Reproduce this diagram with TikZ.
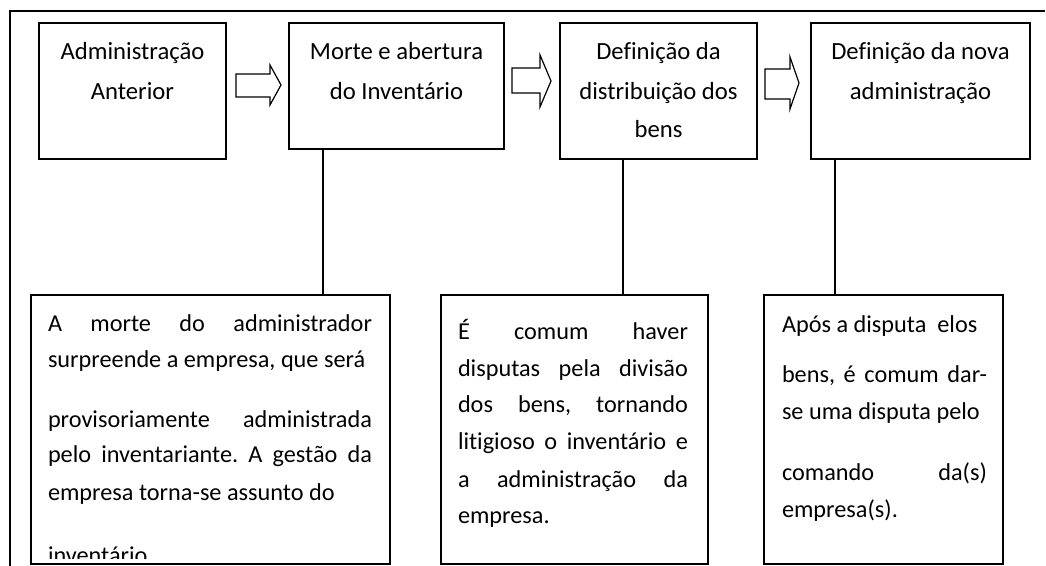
\documentclass[tikz,border=0pt]{standalone}
\usepackage{fontspec}
\setmainfont{Carlito}[Ligatures={NoCommon,NoRequired,NoContextual}]
\frenchspacing
\begin{document}
\begin{tikzpicture}[x=0.75pt,y=-0.75pt,
  every node/.style={inner sep=0pt,outer sep=0pt},
  box/.style={draw,line width=0.9pt},
  sz/.style 2 args={minimum width=#1*0.75pt,minimum height=#2*0.75pt},
  lbl/.style={font=\fontsize{18.5}{22}\selectfont,anchor=base},
  txt/.style={font=\fontsize{18.2}{22}\selectfont,anchor=base west},
  blk/.style={draw,line width=0.9pt,line join=miter},
  conn/.style={draw,line width=0.9pt},
  frame/.style={draw,line width=0.9pt}]
\useasboundingbox (0,0) rectangle (1046,566);
% frame
\draw[frame] (10,566) -- (10,11) -- (1045,11);
% top boxes
\node[box,sz={187}{136}] (b1) at (132.5,91) {};
\node[box,sz={215}{126}] (b2) at (396.5,86) {};
\node[box,sz={197}{136}] (b3) at (658.5,91) {};
\node[box,sz={219}{136}] (b4) at (920.5,91) {};
% bottom boxes
\node[box,sz={359}{269}] (bA) at (210.5,429.5) {};
\node[box,sz={267}{269}] (bB) at (574.5,429.5) {};
\node[box,sz={239}{269}] (bC) at (883.5,429.5) {};
% top labels
\node[lbl] (l1a) at (132.5,60) {Administração};
\node[lbl] (l1b) at (132.5,100) {Anterior};
\node[lbl] (l2a) at (396.5,60) {Morte e abertura};
\node[lbl] (l2b) at (396.5,100) {do Inventário};
\node[lbl] (l3a) at (658.5,60) {Definição da};
\node[lbl] (l3b) at (658.5,100) {distribuição dos};
\node[lbl] (l3c) at (658.5,138) {bens};
\node[lbl] (l4a) at (920.5,60) {Definição da nova};
\node[lbl] (l4b) at (920.5,100) {administração};
% block arrows
\draw[blk] (236,74) -- (270,74) -- (270,65) -- (281,85) -- (270,105) -- (270,97) -- (236,97) -- cycle;
\draw[blk] (512,68) -- (540,68) -- (540,55) -- (551,81) -- (540,107) -- (540,93) -- (512,93) -- cycle;
\draw[blk] (765,69) -- (790,69) -- (790,57) -- (799,83) -- (790,109) -- (790,99) -- (765,99) -- cycle;
% connectors
\coordinate (k1) at (323,149);
\coordinate (k2) at (623,159);
\coordinate (k3) at (835,159);
\draw[conn] (k1) -- (k1 |- bA.north);
\draw[conn] (k2) -- (k2 |- bB.north);
\draw[conn] (k3) -- (k3 |- bC.north);
% box A text
\node[txt] (ta1) at (48,332) {\makebox[243pt][s]{A morte do administrador}};
\node[txt] (ta2) at (48,368) {surpreende a empresa, que será};
\node[txt] (ta3) at (48,427) {\makebox[243pt][s]{provisoriamente administrada}};
\node[txt] (ta4) at (48,463) {\makebox[243pt][s]{pelo inventariante. A gestão da}};
\node[txt] (ta5) at (48,500) {empresa torna-se assunto do};
\begin{scope}
\clip (31,295) rectangle (390,558);
\node[txt] (ta6) at (48,563) {inventário};
\end{scope}
% box B text
\node[txt] (tb1) at (458,340) {\makebox[172.5pt][s]{É comum haver}};
\node[txt] (tb2) at (458,377) {\makebox[172.5pt][s]{disputas pela divisão}};
\node[txt] (tb3) at (458,413) {\makebox[172.5pt][s]{dos bens, tornando}};
\node[txt] (tb4) at (458,450) {\makebox[172.5pt][s]{litigioso o inventário e}};
\node[txt] (tb5) at (458,487) {\makebox[172.5pt][s]{a administração da}};
\node[txt] (tb6) at (458,523) {empresa.};
% box C text
\node[txt] (tc1) at (782,333) {Após a disputa\ \ elos};
\node[txt] (tc2) at (782,383) {\makebox[153.75pt][s]{bens, é comum dar-}};
\node[txt] (tc3) at (782,420) {se uma disputa pelo};
\node[txt] (tc4) at (782,480) {\makebox[153.75pt][s]{comando da(s)}};
\node[txt] (tc5) at (782,517) {empresa(s).};
\end{tikzpicture}
\end{document}
